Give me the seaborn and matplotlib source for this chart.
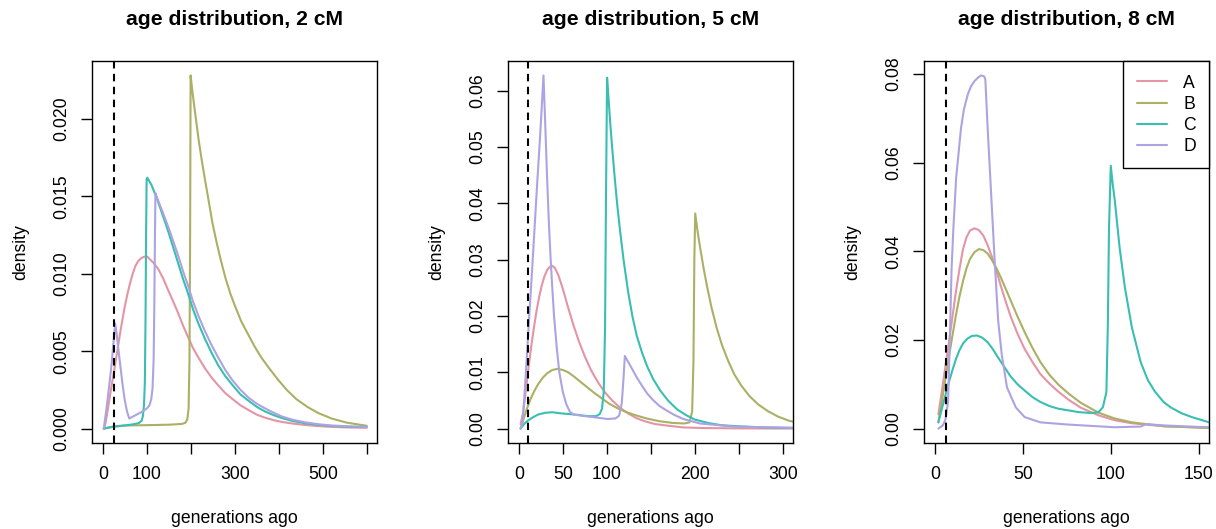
import pandas as pd
import numpy as np
import seaborn as sns
import matplotlib
matplotlib.use("Agg")
import matplotlib.pyplot as plt

# categorias y estilo
groups = ["A", "B", "C", "D"]
colors = ["#E495A5", "#ABB065", "#39BEB1", "#ACA4E2"]
titles = ["age distribution, 2 cM", "age distribution, 5 cM", "age distribution, 8 cM"]
cutoff = [25, 10, 6.25]
x_limits = [(0, 600), (0, 300), (0, 150)]
x_ticks = [[0, 100, 200, 300, 400, 500, 600], [0, 50, 100, 150, 200, 250, 300], [0, 50, 100, 150]]
x_ticklabels = [["0", "100", "", "300", "", "500", ""],
                ["0", "50", "100", "", "200", "", "300"],
                ["0", "50", "100", "150"]]
y_ticks = [[0.0, 0.005, 0.010, 0.015, 0.020],
           [0.0, 0.01, 0.02, 0.03, 0.04, 0.05, 0.06],
           [0.0, 0.02, 0.04, 0.06, 0.08]]
y_fmt = ["{:.3f}", "{:.2f}", "{:.2f}"]

# ---- 2 cM ----
gen_2_A = [2, 5, 10, 15, 20, 25, 30, 35, 40, 45, 50, 56, 62, 68, 74, 80, 87, 94, 101, 108, 115, 126, 137, 149, 160,
           172, 183, 194, 205, 217, 232, 247, 262, 278, 295, 313, 331, 350, 369, 390, 407, 430, 460, 490, 520, 560, 600]
dens_2_A = [0.0, 0.0002, 0.0010, 0.0019, 0.0028, 0.0036, 0.0045, 0.0054, 0.0063, 0.0071, 0.0079, 0.0087, 0.0094,
            0.0100, 0.0105, 0.0108, 0.0110, 0.0111, 0.0111, 0.0109, 0.0107, 0.0103, 0.0097, 0.0089, 0.0082,
            0.0074, 0.0066, 0.0059, 0.0052, 0.0046, 0.0039, 0.0033, 0.0028, 0.0023, 0.0019, 0.0015, 0.0012,
            0.0009, 0.0007, 0.00053, 0.00043, 0.00033, 0.00023, 0.00016, 0.00011, 0.00007, 0.00005]
gen_2_B = [2, 20, 50, 100, 150, 180, 188, 192, 195, 197, 198.5, 199.5, 203, 207, 212, 218, 225, 232, 240, 249, 258,
           268, 279, 290, 302, 315, 330, 345, 360, 378, 397, 418, 440, 465, 490, 520, 555, 600]
dens_2_B = [0.0, 0.0001, 0.0002, 0.00022, 0.00025, 0.0003, 0.00038, 0.0006, 0.0013, 0.0045, 0.013, 0.0228,
            0.0219, 0.0210, 0.0199, 0.0186, 0.0173, 0.0161, 0.0148, 0.0133, 0.0121, 0.0109, 0.0097, 0.0087,
            0.0078, 0.0069, 0.0061, 0.0053, 0.0046, 0.0039, 0.0032, 0.0025, 0.0019, 0.0014, 0.0010, 0.00065,
            0.00038, 0.00018]
gen_2_C = [2, 15, 30, 50, 70, 82, 88, 91, 93.5, 95.5, 97, 98.3, 99.5, 101, 105, 111, 118, 126, 137, 149, 160, 172,
           183, 194, 205, 217, 232, 247, 262, 278, 295, 313, 331, 350, 369, 390, 407, 430, 460, 490, 520, 560, 600]
dens_2_C = [0.0, 0.00008, 0.00015, 0.0002, 0.00028, 0.00036, 0.0005, 0.0008, 0.0015, 0.003, 0.007, 0.0125, 0.0161,
            0.0162, 0.0160, 0.0157, 0.0152, 0.0146, 0.0137, 0.0127, 0.0117, 0.0106, 0.0096, 0.0087, 0.0077,
            0.0068, 0.0058, 0.0049, 0.0041, 0.0034, 0.0028, 0.0022, 0.0018, 0.0014, 0.0011, 0.00085, 0.00068,
            0.0005, 0.00034, 0.00024, 0.00017, 0.00012, 0.0001]
gen_2_D = [2, 6, 10, 15, 20, 24, 28, 31, 35, 40, 45, 50, 55, 60, 70, 80, 90, 100, 106, 110, 113, 115.5, 117, 118.5,
           119.5, 122, 126, 137, 149, 160, 172, 183, 194, 205, 217, 232, 247, 262, 278, 295, 313, 331, 350, 369,
           390, 407, 430, 460, 490, 520, 560, 600]
dens_2_D = [0.0, 0.0008, 0.0017, 0.0029, 0.0042, 0.0055, 0.0068, 0.0062, 0.0052, 0.0040, 0.0028, 0.0018, 0.0011,
            0.00065, 0.0008, 0.00095, 0.0011, 0.0013, 0.0015, 0.0019, 0.0026, 0.0045, 0.008, 0.0125, 0.0152,
            0.0150, 0.0147, 0.0139, 0.0130, 0.0121, 0.0111, 0.0101, 0.0092, 0.0082, 0.0073, 0.0063, 0.0054,
            0.0046, 0.0038, 0.0031, 0.0025, 0.0020, 0.0016, 0.0013, 0.0010, 0.00078, 0.00058, 0.0004, 0.00028,
            0.0002, 0.00014, 0.0001]

# ---- 5 cM ----
gen_5_A = [2, 5, 8, 11, 14, 17, 20, 23, 26, 29, 32, 35, 38, 41, 45, 50, 56, 62, 68, 75, 82, 90, 98, 106, 115, 124,
           133, 143, 155, 170, 187, 210, 250, 320]
dens_5_A = [0.0008, 0.003, 0.0068, 0.0108, 0.0145, 0.0178, 0.0208, 0.0233, 0.0254, 0.0270, 0.0281, 0.0287, 0.0289,
            0.0285, 0.0272, 0.0248, 0.0215, 0.0184, 0.0156, 0.0128, 0.0104, 0.0082, 0.0064, 0.0050, 0.0037,
            0.0027, 0.0019, 0.0013, 0.0008, 0.0005, 0.0002, 0.0001, 0.00003, 0.0]
gen_5_B = [2, 5, 8, 11, 14, 18, 22, 27, 32, 38, 44, 50, 56, 63, 70, 78, 86, 94, 102, 111, 121, 132, 145, 160, 175,
           188, 194, 197, 198.5, 199.5, 200.5, 203, 206, 210, 214, 219, 225, 231, 238, 245, 253, 262, 272, 283,
           295, 307, 320]
dens_5_B = [0.0, 0.0015, 0.0030, 0.0043, 0.0055, 0.0068, 0.0079, 0.0090, 0.0098, 0.0104, 0.0106, 0.0104, 0.0100,
            0.0092, 0.0083, 0.0073, 0.0063, 0.0054, 0.0045, 0.0037, 0.0030, 0.0024, 0.0018, 0.0013, 0.0010,
            0.0009, 0.0011, 0.003, 0.012, 0.030, 0.0382, 0.0352, 0.0322, 0.0285, 0.0252, 0.0215, 0.0178,
            0.0148, 0.0120, 0.0096, 0.0076, 0.0058, 0.0043, 0.0031, 0.0021, 0.0014, 0.0009]
gen_5_C = [2, 6, 10, 16, 22, 30, 38, 48, 63, 79, 88, 92, 94.5, 96.5, 98, 99, 100.3, 102, 104, 106, 109, 112, 115,
           119, 124, 129, 134, 140, 146, 153, 161, 170, 180, 190, 200, 215, 230, 250, 280, 320]
dens_5_C = [0.0, 0.0008, 0.0014, 0.0020, 0.0025, 0.0028, 0.0029, 0.0027, 0.0025, 0.0022, 0.0022, 0.0026, 0.0035,
            0.0065, 0.018, 0.040, 0.0623, 0.0585, 0.0540, 0.0500, 0.0445, 0.0395, 0.0352, 0.0300, 0.0245,
            0.0200, 0.0165, 0.0135, 0.0110, 0.0087, 0.0067, 0.0049, 0.0034, 0.0024, 0.0016, 0.0010, 0.0006,
            0.0004, 0.0002, 0.0001]
gen_5_D = [2, 4, 6, 8, 10, 12, 15, 18, 21, 24, 26, 28, 30, 32, 34, 36, 38, 40, 43, 46, 50, 54, 58, 62, 71, 86, 101,
           110, 114, 117, 119, 120.5, 124, 128, 134, 140, 146, 153, 160, 168, 177, 187, 206, 244, 320]
dens_5_D = [0.0, 0.001, 0.005, 0.010, 0.0152, 0.0205, 0.028, 0.036, 0.044, 0.0515, 0.057, 0.0627, 0.054, 0.045,
            0.037, 0.0305, 0.025, 0.020, 0.0145, 0.010, 0.0065, 0.0043, 0.0030, 0.0025, 0.0023, 0.0020, 0.0017,
            0.0018, 0.0023, 0.0045, 0.009, 0.0129, 0.0119, 0.0108, 0.0091, 0.0076, 0.0062, 0.0050, 0.0040,
            0.0032, 0.0024, 0.0017, 0.0009, 0.00035, 0.0001]

# ---- 8 cM ----
gen_8_A = [2, 4, 6, 8, 10, 12, 14, 16, 18, 20, 22.5, 25, 27.5, 30, 32.5, 35, 37.5, 40, 43, 47, 51, 55.5, 60, 65, 70,
           76, 83, 93, 102, 112, 131, 160]
dens_8_A = [0.0032, 0.0085, 0.0140, 0.0195, 0.0252, 0.0310, 0.0360, 0.0405, 0.0432, 0.0447, 0.0452, 0.0448,
            0.0436, 0.0414, 0.0387, 0.0356, 0.0322, 0.0290, 0.0254, 0.0214, 0.0180, 0.0150, 0.0123, 0.0102,
            0.0084, 0.0065, 0.0047, 0.0030, 0.0019, 0.0012, 0.0005, 0.0001]
gen_8_B = [2, 4, 6, 8, 10, 12, 14, 16, 18, 20, 22.5, 25, 27.5, 30, 32.5, 35, 37.5, 40, 43, 47, 51, 55.5, 60, 65, 70,
           76, 83, 93, 102, 112, 131, 160]
dens_8_B = [0.0014, 0.0062, 0.0112, 0.0162, 0.0210, 0.0256, 0.0298, 0.0333, 0.0362, 0.0383, 0.0398, 0.0405,
            0.0403, 0.0395, 0.0380, 0.0362, 0.0341, 0.0318, 0.0290, 0.0253, 0.0218, 0.0182, 0.0150, 0.0122,
            0.0100, 0.0079, 0.0058, 0.0036, 0.0023, 0.0014, 0.0005, 0.0001]
gen_8_C = [2, 4, 6, 8, 10, 12, 14, 16, 18.5, 21, 24, 27, 30, 33, 35.5, 39, 43, 47, 51, 55.5, 60, 65, 70, 76, 82, 89,
           93, 95.5, 97.5, 98.3, 99, 100, 101, 102.3, 105, 108, 112, 117, 121, 125, 130, 134, 140, 146, 156, 160]
dens_8_C = [0.0014, 0.0045, 0.0075, 0.0105, 0.0132, 0.0157, 0.0177, 0.0192, 0.0203, 0.0209, 0.0210, 0.0205,
            0.0195, 0.0179, 0.0163, 0.0142, 0.0118, 0.0100, 0.0086, 0.0071, 0.0060, 0.0051, 0.0045, 0.0041,
            0.0037, 0.0035, 0.0037, 0.0048, 0.0082, 0.0228, 0.0454, 0.0593, 0.0555, 0.0514, 0.0409, 0.0319,
            0.0228, 0.0150, 0.0110, 0.0084, 0.0060, 0.0048, 0.0035, 0.0026, 0.0014, 0.0011]
gen_8_D = [2, 4.5, 6, 7.5, 8.5, 9.5, 10.5, 12.1, 14.9, 16.5, 18.7, 20.5, 22.5, 24.5, 26.2, 28, 28.7, 30, 32, 34, 36,
           38, 41, 46, 51, 60, 76, 102, 117, 120, 131, 160]
dens_8_D = [0.0, 0.0007, 0.002, 0.006, 0.020, 0.036, 0.045, 0.0566, 0.0679, 0.0720, 0.0754, 0.0772, 0.0784,
            0.0792, 0.0797, 0.0795, 0.0788, 0.0679, 0.0529, 0.0379, 0.0243, 0.0168, 0.0093, 0.0048, 0.0026,
            0.0014, 0.0009, 0.0003, 0.00045, 0.001, 0.0007, 0.0002]

panels = [
    [(gen_2_A, dens_2_A), (gen_2_B, dens_2_B), (gen_2_C, dens_2_C), (gen_2_D, dens_2_D)],
    [(gen_5_A, dens_5_A), (gen_5_B, dens_5_B), (gen_5_C, dens_5_C), (gen_5_D, dens_5_D)],
    [(gen_8_A, dens_8_A), (gen_8_B, dens_8_B), (gen_8_C, dens_8_C), (gen_8_D, dens_8_D)],
]

sns.set_theme(style="ticks")
plt.rcParams["font.family"] = ["Liberation Sans", "DejaVu Sans"]
plt.rcParams["axes.linewidth"] = 1.0
plt.rcParams["axes.edgecolor"] = "black"
plt.rcParams["text.color"] = "black"
plt.rcParams["axes.labelcolor"] = "black"
plt.rcParams["axes.titlecolor"] = "black"
plt.rcParams["xtick.color"] = "black"
plt.rcParams["ytick.color"] = "black"

W, H = 1216, 529
fig = plt.figure(figsize=(W / 100, H / 100), dpi=100)
lefts = [92.3, 508.3, 924.3]
box_w, box_top, box_bot = 285.0, 61.3, 442.7

for i, series in enumerate(panels):
    ax = fig.add_axes([lefts[i] / W, (H - box_bot) / H, box_w / W, (box_bot - box_top) / H])

    frames = []
    for g, (xs, ys) in zip(groups, series):
        frames.append(pd.DataFrame({"gen": xs, "density": ys, "group": g}))
    df = pd.concat(frames, ignore_index=True)

    sns.lineplot(data=df, x="gen", y="density", hue="group", hue_order=groups, palette=colors,
                 estimator=None, sort=True, linewidth=1.5, ax=ax, legend=(i == 2))
    ax.axvline(cutoff[i], color="black", linestyle=(0, (3.6, 2.6)), linewidth=1.5)

    # limites estilo R (4% extra)
    lo, hi = x_limits[i]
    ax.set_xlim(lo - 0.04 * (hi - lo), hi + 0.04 * (hi - lo))
    ymax = df["density"].max()
    ax.set_ylim(-0.04 * ymax, 1.04 * ymax)

    ax.set_xticks(x_ticks[i])
    ax.set_xticklabels(x_ticklabels[i])
    ax.set_yticks(y_ticks[i])
    ax.set_yticklabels([y_fmt[i].format(v) for v in y_ticks[i]])
    ax.tick_params(axis="both", direction="out", length=7.6, width=1.0, color="black",
                   labelsize=12.7, labelcolor="black")
    ax.tick_params(axis="x", pad=9.5)
    ax.tick_params(axis="y", pad=8.5)
    plt.setp(ax.get_yticklabels(), rotation=90, va="center", ha="right")

    for s in ax.spines.values():
        s.set_visible(True)
        s.set_color("black")
        s.set_linewidth(1.0)

    ax.set_xlabel("generations ago", fontsize=12.7)
    ax.set_ylabel("density", fontsize=12.7)
    ax.xaxis.label.set_va("center")
    ax.yaxis.label.set_va("center")
    ax.xaxis.set_label_coords(0.5, -0.198)
    ax.yaxis.set_label_coords(-0.25, 0.5)
    ax.set_title(titles[i], fontsize=15.2, fontweight="bold", y=1.11, va="center", pad=0)

    if i == 2:
        handles, labels = ax.get_legend_handles_labels()
        leg = ax.legend(handles, labels, loc="upper right", bbox_to_anchor=(1, 1), borderaxespad=0,
                        fontsize=12.7, handlelength=1.75, handletextpad=0.9, borderpad=0.75,
                        labelspacing=0.235, fancybox=False, framealpha=1, edgecolor="black")
        leg.get_frame().set_linewidth(1.0)
        for line in leg.get_lines():
            line.set_linewidth(1.5)

fig.savefig("out.png", dpi=100)
plt.close(fig)
